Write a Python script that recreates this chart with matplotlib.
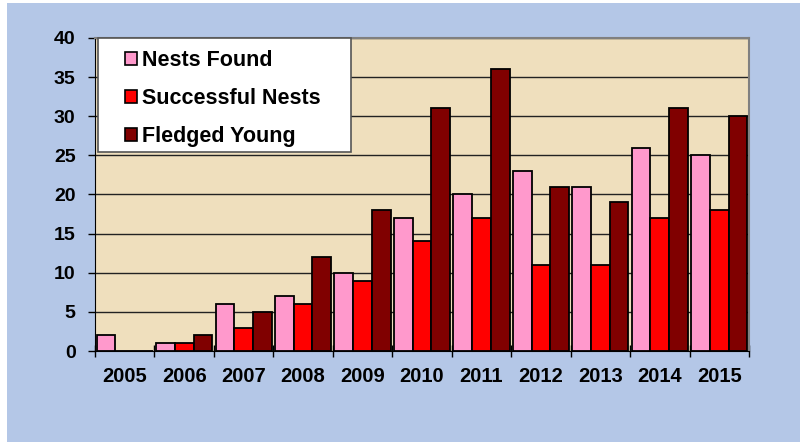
import numpy as np
import matplotlib
matplotlib.use("Agg")
import matplotlib.pyplot as plt
from matplotlib.patches import Rectangle, Patch

# dados do grafico
years = ["2005", "2006", "2007", "2008", "2009", "2010", "2011", "2012", "2013", "2014", "2015"]
nests_found = [2, 1, 6, 7, 10, 17, 20, 23, 21, 26, 25]
successful_nests = [0, 1, 3, 6, 9, 14, 17, 11, 11, 17, 18]
fledged_young = [0, 2, 5, 12, 18, 31, 36, 21, 19, 31, 30]
series_names = ["Nests Found", "Successful Nests", "Fledged Young"]
series_colors = ["#ff99cc", "#ff0000", "#800000"]

plt.rcParams['font.family'] = ['Liberation Sans', 'DejaVu Sans']
plt.rcParams['font.weight'] = 'bold'

W, H = 800, 442
fig = plt.figure(figsize=(W / 100, H / 100), dpi=100)
fig.patch.set_facecolor("white")
# fundo azul
fig.add_artist(Rectangle((7 / W, 0), 1, 1 - 3 / H, transform=fig.transFigure,
                         facecolor="#b4c7e7", edgecolor="none", zorder=0))

ax = fig.add_axes([95 / W, 1 - 351 / H, 654 / W, 313 / H])
ax.set_facecolor("#efdfbd")

x = np.arange(len(years))
w = 0.315
valores = [nests_found, successful_nests, fledged_young]
for i, (vals, cor, nome) in enumerate(zip(valores, series_colors, series_names)):
    ax.bar(x + (i - 1) * w, vals, w, color=cor, edgecolor="black", linewidth=1.3,
           label=nome, zorder=3)

ax.set_xlim(-0.5, len(years) - 0.5)
ax.set_ylim(0, 40)
ax.set_yticks(range(0, 41, 5))
ax.yaxis.grid(True, color="#222222", linewidth=1.0, zorder=1)

ax.set_xticks(x)
ax.set_xticklabels(years, fontsize=14.5, fontweight="bold")
ax.set_xticks(np.arange(-0.5, len(years)), minor=True)
ax.tick_params(axis="x", which="major", length=0, pad=11.5)
ax.tick_params(axis="x", which="minor", length=9, width=1, direction="inout", color="black")
ax.tick_params(axis="y", length=5, width=1, direction="out", labelsize=14, pad=9)
for lab in ax.get_yticklabels():
    lab.set_fontweight("bold")

for s in ["top", "right"]:
    ax.spines[s].set_color("#808080")
    ax.spines[s].set_linewidth(1.5)
ax.spines["left"].set_color("black")
ax.spines["bottom"].set_color("black")

# caixa da legenda
fig.add_artist(Rectangle((98 / W, 1 - 152 / H), 253 / W, 114 / H, transform=fig.transFigure,
                         facecolor="white", edgecolor="#555555", linewidth=1.2, zorder=5))
handles = [Patch(facecolor=c, edgecolor="black", linewidth=1.2) for c in series_colors]
leg = fig.legend(handles, series_names, loc="upper left",
                 bbox_to_anchor=(125 / W, 1 - 50 / H), fontsize=15.5, frameon=False,
                 handlelength=0.55, handleheight=0.55, handletextpad=0.22,
                 labelspacing=0.8, borderpad=0, borderaxespad=0)
leg.set_zorder(6)

fig.savefig("out.png", dpi=100, facecolor=fig.get_facecolor())
